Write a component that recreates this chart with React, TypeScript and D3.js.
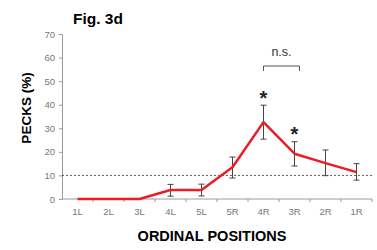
import React, { useEffect, useRef } from 'react';
import * as d3 from 'd3';

// ordinal positions and pecks (%)
const positions = ['1L', '2L', '3L', '4L', '5L', '5R', '4R', '3R', '2R', '1R'];
const pecks = [0, 0, 0, 3.8, 3.8, 13.5, 32.6, 19.2, 15.2, 11.4];
const errLow = [null, null, null, 1.2, 1.3, 8.9, 25.4, 14.0, 9.9, 8.0];
const errHigh = [null, null, null, 6.2, 6.3, 17.8, 39.8, 24.3, 20.8, 15.0];
const yTicks = [0, 10, 20, 30, 40, 50, 60, 70];
const chanceLevel = 10;
const starred = ['4R', '3R'];
const nsPair = ['4R', '3R'];

function drawChart(svgRef: React.RefObject<SVGSVGElement>) {
    const svg = d3.select(svgRef.current);
    svg.selectAll('*').remove();

    const w = 377;
    const h = 250;
    const left = 62;
    const right = 372;
    const top = 34;
    const bottom = 199;

    svg.attr('width', w).attr('height', h).style('display', 'block');
    svg.append('rect').attr('width', w).attr('height', h).attr('fill', '#fff');

    const x = d3.scaleBand().domain(positions).range([left, right]);
    const y = d3.scaleLinear().domain([0, 70]).range([bottom, top]);
    const cx = (p: string) => (x(p) as number) + x.bandwidth() / 2;

    const font = 'Arial, "Liberation Sans", sans-serif';
    const axisColor = '#9a9a9a';

    // title
    svg.append('text')
        .attr('x', 98).attr('y', 24)
        .attr('text-anchor', 'middle')
        .attr('font-family', font).attr('font-weight', 'bold').attr('font-size', 15.5)
        .text('Fig. 3d');

    // y axis
    const gy = svg.append('g').attr('transform', `translate(${left},0)`)
        .call(d3.axisLeft(y).tickValues(yTicks).tickSize(3).tickPadding(4));
    gy.select('.domain').attr('stroke', axisColor);
    gy.selectAll('.tick line').attr('stroke', axisColor);
    gy.selectAll('.tick text').attr('fill', '#777').attr('font-family', font).attr('font-size', 9.5);

    // x axis: ticks at band edges
    const gx = svg.append('g').attr('transform', `translate(0,${bottom})`);
    gx.append('line').attr('x1', left).attr('x2', right).attr('stroke', axisColor);
    const edges = positions.map(p => (x(p) as number) + x.step());
    gx.selectAll('line.edge').data(edges).enter().append('line')
        .attr('class', 'edge')
        .attr('x1', d => d).attr('x2', d => d).attr('y1', 0).attr('y2', 3)
        .attr('stroke', axisColor);
    gx.selectAll('text').data(positions).enter().append('text')
        .attr('x', d => cx(d)).attr('y', 16)
        .attr('text-anchor', 'middle')
        .attr('fill', '#777').attr('font-family', font).attr('font-size', 9.5)
        .text(d => d);

    // chance line
    svg.append('line')
        .attr('x1', left).attr('x2', right)
        .attr('y1', y(chanceLevel)).attr('y2', y(chanceLevel))
        .attr('stroke', '#333').attr('stroke-width', 0.8)
        .attr('stroke-dasharray', '2,2');

    // error bars
    const bars = positions.map((p, i) => ({ p, lo: errLow[i], hi: errHigh[i] })).filter(d => d.lo !== null);
    const eg = svg.append('g').attr('stroke', '#444').attr('stroke-width', 1);
    bars.forEach(d => {
        const px = cx(d.p);
        eg.append('line').attr('x1', px).attr('x2', px).attr('y1', y(d.lo as number)).attr('y2', y(d.hi as number));
        eg.append('line').attr('x1', px - 3).attr('x2', px + 3).attr('y1', y(d.hi as number)).attr('y2', y(d.hi as number));
        eg.append('line').attr('x1', px - 3).attr('x2', px + 3).attr('y1', y(d.lo as number)).attr('y2', y(d.lo as number));
    });

    // red line
    const line = d3.line<number>()
        .x((d, i) => cx(positions[i]))
        .y(d => y(d));
    svg.append('path')
        .attr('d', line(pecks))
        .attr('fill', 'none')
        .attr('stroke', '#ee1c25')
        .attr('stroke-width', 2.5)
        .attr('stroke-linejoin', 'round');

    // asterisks
    starred.forEach(p => {
        const i = positions.indexOf(p);
        svg.append('text')
            .attr('x', cx(p)).attr('y', y(errHigh[i] as number) - 0.5)
            .attr('text-anchor', 'middle')
            .attr('font-family', font).attr('font-weight', 'bold').attr('font-size', 20)
            .attr('fill', '#222')
            .text('*');
    });

    // n.s. bracket
    const bx1 = cx(nsPair[0]);
    const bx2 = cx(nsPair[1]) + 5;
    svg.append('path')
        .attr('d', `M${bx1},71V66H${bx2}V71`)
        .attr('fill', 'none').attr('stroke', '#555').attr('stroke-width', 1);
    svg.append('text')
        .attr('x', (bx1 + bx2) / 2).attr('y', 56)
        .attr('text-anchor', 'middle')
        .attr('font-family', font).attr('font-size', 12.5)
        .attr('fill', '#333')
        .text('n.s.');

    // axis titles
    svg.append('text')
        .attr('transform', `translate(31,108) rotate(-90)`)
        .attr('text-anchor', 'middle')
        .attr('font-family', font).attr('font-weight', 'bold').attr('font-size', 13.5)
        .text('PECKS (%)');
    svg.append('text')
        .attr('x', 212).attr('y', 241)
        .attr('text-anchor', 'middle')
        .attr('font-family', font).attr('font-weight', 'bold').attr('font-size', 14.5)
        .text('ORDINAL POSITIONS');
}

const App = () => {
    const svg = useRef<SVGSVGElement>(null);

    useEffect(() => {
        document.body.style.margin = '0';
        drawChart(svg);
    }, []);

    return (
        <div id="chart">
            <svg ref={svg} />
        </div>
    );
};

export default App;
